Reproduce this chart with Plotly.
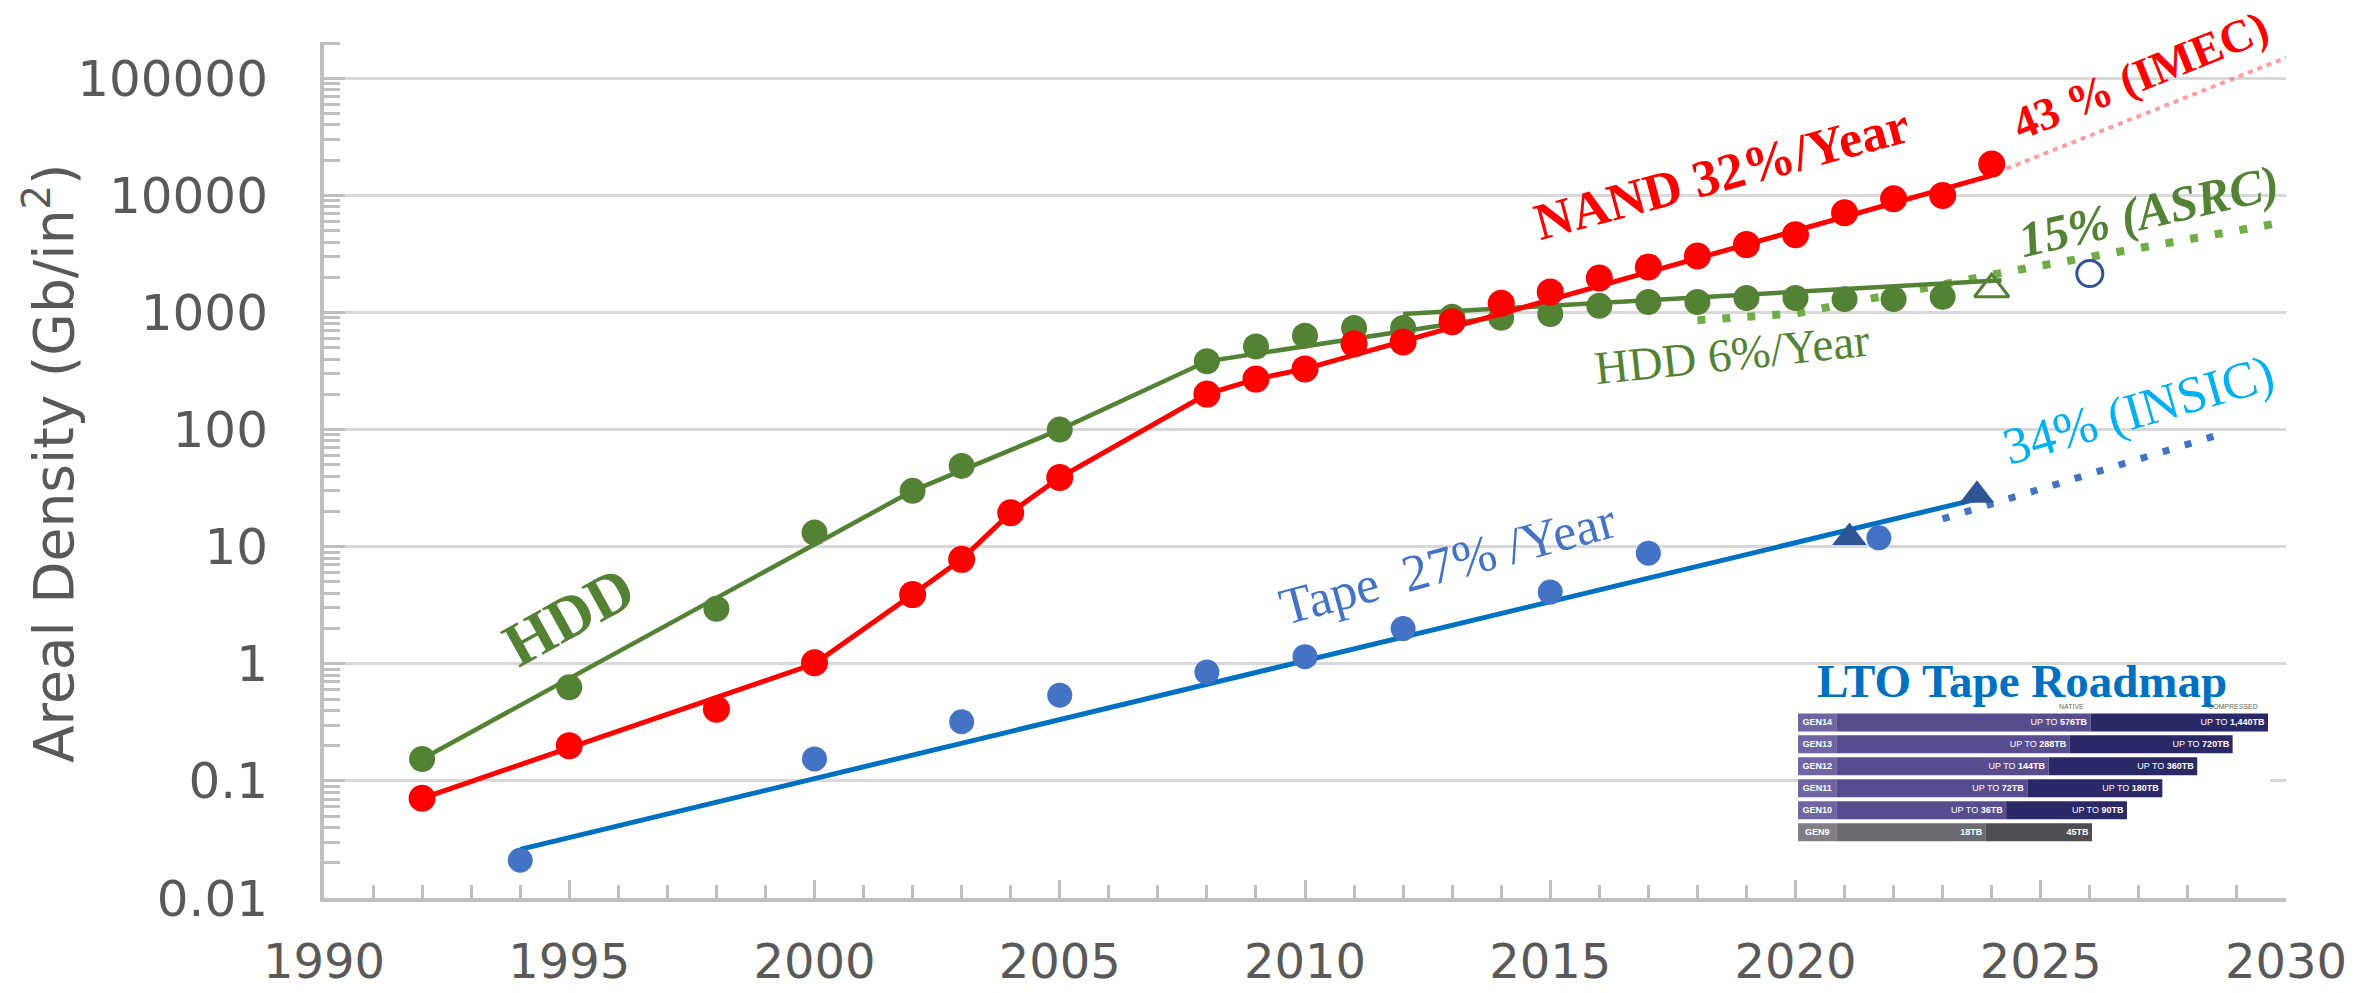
import plotly.graph_objects as go

# ---------------- data ----------------
hdd_years = [1992, 1995, 1998, 2000, 2002, 2003, 2005, 2008, 2009, 2010, 2011, 2012,
             2013, 2014, 2015, 2016, 2017, 2018, 2019, 2020, 2021, 2022, 2023]
hdd_density = [0.154, 0.63, 2.95, 13.2, 30, 49, 100, 383, 512, 634, 738, 738,
               920, 900, 970, 1140, 1230, 1230, 1330, 1330, 1300, 1300, 1360]

nand_years = [1992, 1995, 1998, 2000, 2002, 2003, 2004, 2005, 2008, 2009, 2010, 2011, 2012,
              2013, 2014, 2015, 2016, 2017, 2018, 2019, 2020, 2021, 2022, 2023, 2024]
nand_density = [0.071, 0.20, 0.41, 1.02, 3.9, 7.8, 19.5, 39, 201, 270, 330, 540, 560,
                835, 1200, 1500, 1970, 2450, 3040, 3800, 4620, 7120, 9370, 10000, 18500]

tape_years = [1994, 2000, 2003, 2005, 2008, 2010, 2012, 2015, 2017, 2021.7]
tape_density = [0.021, 0.154, 0.32, 0.54, 0.85, 1.15, 2.0, 4.1, 8.8, 11.9]

tape_tri_years = [2021.1, 2023.7]
tape_tri_density = [12.0, 27.5]
hdd_tri_years = [2024.0]
hdd_tri_density = [1580]
open_circle_years = [2026.0]
open_circle_density = [2150]

# trend / fit lines
hdd_fit1_years = [1992, 2002, 2005, 2008, 2014]
hdd_fit1 = [0.154, 30, 100, 383, 930]
hdd_fit2_years = [2012, 2024.2]
hdd_fit2 = [970, 1890]
nand_fit_years = [1992, 2000, 2002, 2003, 2004, 2005, 2008, 2009, 2010, 2024]
nand_fit = [0.071, 1.0, 3.9, 7.8, 19.5, 39, 201, 270, 330, 14800]
tape_fit_years = [1994, 2023.7]
tape_fit = [0.026, 25.5]

# projections
imec_years = [2024.3, 2030]
imec = [16900, 150000]
asrc_years = [2018, 2020, 2024.3, 2029.8]
asrc = [860, 980, 2220, 5750]
insic_years = [2023.0, 2028.8]
insic = [17.3, 95]

# axis ticks
x_ticks = [1990, 1995, 2000, 2005, 2010, 2015, 2020, 2025, 2030]
y_ticks = [0.01, 0.1, 1, 10, 100, 1000, 10000, 100000]
y_ticktext = ["0.01", "0.1", "1", "10", "100", "1000", "10000", "100000"]

# LTO roadmap inset (bar lengths in % of the inset panel width)
lto_gens = ["GEN14", "GEN13", "GEN12", "GEN11", "GEN10", "GEN9"]
lto_rows = [5, 4, 3, 2, 1, 0]
lto_native_txt = ["UP TO <b>576TB</b>", "UP TO <b>288TB</b>", "UP TO <b>144TB</b>",
                  "UP TO <b>72TB</b>", "UP TO <b>36TB</b>", "<b>18TB</b>"]
lto_comp_txt = ["UP TO <b>1,440TB</b>", "UP TO <b>720TB</b>", "UP TO <b>360TB</b>",
                "UP TO <b>180TB</b>", "UP TO <b>90TB</b>", "<b>45TB</b>"]
lto_label_end = [8.1] * 6
lto_native_end = [62.0, 57.6, 53.1, 48.6, 44.1, 39.8]
lto_comp_end = [99.6, 92.1, 84.6, 77.2, 69.7, 62.3]

# ---------------- styles ----------------
RED = "#FF0000"
GREEN = "#548235"
LGREEN = "#70AD47"
BLUE_PT = "#4472C4"
BLUE_LN = "#0070C0"
DBLUE = "#2F5597"
GRAY_TXT = "#595959"
AX = "#BFBFBF"
SERIF = "Liberation Serif, Times New Roman, serif"
SANS = "DejaVu Sans, Verdana, sans-serif"

fig = go.Figure()

# trend lines
fig.add_trace(go.Scatter(x=asrc_years, y=asrc, mode="lines",
                         line=dict(color=LGREEN, width=8, dash="8px,17px")))
fig.add_trace(go.Scatter(x=hdd_fit1_years, y=hdd_fit1, mode="lines",
                         line=dict(color=GREEN, width=4.5)))
fig.add_trace(go.Scatter(x=hdd_fit2_years, y=hdd_fit2, mode="lines",
                         line=dict(color=GREEN, width=4.5)))
fig.add_trace(go.Scatter(x=hdd_years, y=hdd_density, mode="markers",
                         marker=dict(color=GREEN, size=26)))
fig.add_trace(go.Scatter(x=hdd_tri_years, y=hdd_tri_density, mode="markers",
                         marker=dict(symbol="triangle-up-open", color=GREEN, size=30,
                                     line=dict(width=3, color=GREEN))))
fig.add_trace(go.Scatter(x=imec_years, y=imec, mode="lines",
                         line=dict(color="rgba(255,90,90,0.6)", width=4, dash="5px,5px")))
fig.add_trace(go.Scatter(x=nand_fit_years, y=nand_fit, mode="lines",
                         line=dict(color=RED, width=5)))
fig.add_trace(go.Scatter(x=nand_years, y=nand_density, mode="markers",
                         marker=dict(color=RED, size=27)))
fig.add_trace(go.Scatter(x=insic_years, y=insic, mode="lines",
                         line=dict(color=BLUE_PT, width=7, dash="7px,16px")))
fig.add_trace(go.Scatter(x=tape_fit_years, y=tape_fit, mode="lines",
                         line=dict(color=BLUE_LN, width=5)))
fig.add_trace(go.Scatter(x=tape_years, y=tape_density, mode="markers",
                         marker=dict(color=BLUE_PT, size=25)))
fig.add_trace(go.Scatter(x=tape_tri_years, y=tape_tri_density, mode="markers",
                         marker=dict(symbol="triangle-up", color=DBLUE, size=30)))
fig.add_trace(go.Scatter(x=open_circle_years, y=open_circle_density, mode="markers",
                         marker=dict(symbol="circle-open", color=DBLUE, size=26,
                                     line=dict(width=3, color=DBLUE))))

# LTO inset bars
lab_col = ["#6F65A3"] * 5 + ["#808084"]
nat_col = ["#574C8E"] * 5 + ["#6B6B70"]
cmp_col = ["#2A2867"] * 5 + ["#4E4E53"]
bar_font = dict(family="Liberation Sans, Arial, sans-serif", size=9, color="white")
fig.add_trace(go.Bar(y=lto_rows, x=lto_label_end, base=[0] * 6, orientation="h", width=0.82,
                     marker=dict(color=lab_col, line=dict(width=0)),
                     text=["<b>" + g + "</b>" for g in lto_gens], textposition="inside",
                     insidetextanchor="middle", textangle=0, textfont=bar_font,
                     xaxis="x2", yaxis="y2"))
fig.add_trace(go.Bar(y=lto_rows, x=[n - l for n, l in zip(lto_native_end, lto_label_end)],
                     base=lto_label_end, orientation="h", width=0.82,
                     marker=dict(color=nat_col, line=dict(width=0)),
                     text=lto_native_txt, textposition="inside", insidetextanchor="end",
                     textangle=0, textfont=bar_font, xaxis="x2", yaxis="y2"))
fig.add_trace(go.Bar(y=lto_rows, x=[c - n for c, n in zip(lto_comp_end, lto_native_end)],
                     base=lto_native_end, orientation="h", width=0.82,
                     marker=dict(color=cmp_col, line=dict(width=0)),
                     text=lto_comp_txt, textposition="inside", insidetextanchor="end",
                     textangle=0, textfont=bar_font, xaxis="x2", yaxis="y2"))

minor_y = [m * 10 ** e for e in range(-2, 6) for m in range(2, 10)]

fig.update_layout(
    width=2376, height=993,
    margin=dict(l=324, r=90, t=42, b=95, autoexpand=False),
    paper_bgcolor="white", plot_bgcolor="white",
    showlegend=False, barmode="overlay",
    xaxis=dict(range=[1990, 2030], tickmode="array", tickvals=x_ticks,
               ticks="inside", ticklen=18, tickwidth=2.5, tickcolor=AX,
               showline=True, linecolor=AX, linewidth=4, showgrid=False, zeroline=False,
               tickfont=dict(family=SANS, size=48, color=GRAY_TXT),
               ticklabelstandoff=18, automargin=False,
               minor=dict(dtick=1, tick0=1990, ticks="inside", ticklen=13,
                          tickwidth=2.5, tickcolor=AX, showgrid=False)),
    yaxis=dict(type="log", range=[-2, 5.31], tickmode="array", tickvals=y_ticks,
               ticktext=y_ticktext, ticks="inside", ticklen=21, tickwidth=2.5, tickcolor=AX,
               showline=True, linecolor=AX, linewidth=4, showgrid=True,
               gridcolor="#D9D9D9", gridwidth=2.5, zeroline=False,
               tickfont=dict(family=SANS, size=50, color=GRAY_TXT),
               ticklabelstandoff=42, automargin=False,
               minor=dict(tickmode="array", tickvals=minor_y, ticks="inside", ticklen=16,
                          tickwidth=2.5, tickcolor=AX, showgrid=False)),
    xaxis2=dict(domain=[0.7513, 0.9918], range=[0, 100], anchor="y2", visible=False,
                fixedrange=True),
    yaxis2=dict(domain=[0.0643, 0.229], range=[-0.49, 5.93], anchor="x2", visible=False,
                fixedrange=True),
    shapes=[dict(type="rect", xref="x2 domain", yref="y2 domain", x0=0, x1=1, y0=0, y1=1,
                 fillcolor="#EFEFF5", line=dict(width=0), layer="below")],
)

ann = []


def add_ann(text, x, y, size, color, angle=0, family=SERIF, **kw):
    d = dict(text=text, x=x, y=y, xref="x", yref="y", showarrow=False, textangle=angle,
             font=dict(family=family, size=size, color=color), xanchor="center",
             yanchor="middle")
    d.update(kw)
    ann.append(d)


# labels on the main chart (y given in log10 units)
add_ann("<b>NAND 32%/Year</b>", 2018.5, 4.19, 52, RED, -15)
add_ann("<b>43 % (IMEC)</b>", 2027.03, 5.02, 46, RED, -22)
add_ann("<b><i>15% (ASRC)</i></b>", 2027.2, 3.87, 50, GREEN, -13)
add_ann("HDD 6%/Year", 2018.7, 2.646, 47, GREEN, -6)
add_ann("<b>HDD</b>", 1995.0, 0.405, 62, GREEN, -29)
add_ann("Tape\u00a0 27% /Year", 2012.9, 0.86, 52, BLUE_PT, -15)
add_ann("34% (INSIC)", 2027.0, 2.17, 52, "#00B0F0", -16)

# y-axis title
ann.append(dict(text="Areal Density (Gb/in<sup>2</sup>)", xref="paper", yref="paper",
                x=-0.1397, y=0.508, textangle=-90, showarrow=False, xanchor="center",
                yanchor="middle", font=dict(family=SANS, size=55, color=GRAY_TXT)))
# inset title and headers
ann.append(dict(text="<b>LTO Tape Roadmap</b>", xref="paper", yref="paper", x=0.8654,
                y=0.2535, showarrow=False, xanchor="center", yanchor="middle",
                font=dict(family=SERIF, size=47, color=BLUE_LN)))
ann.append(dict(text="NATIVE", xref="x2", yref="y2", x=58.0, y=5.72, showarrow=False,
                font=dict(family="Liberation Sans, Arial, sans-serif", size=7, color="#666666")))
ann.append(dict(text="COMPRESSED", xref="x2", yref="y2", x=92.1, y=5.72, showarrow=False,
                font=dict(family="Liberation Sans, Arial, sans-serif", size=7, color="#666666")))

fig.update_layout(annotations=ann)
fig.write_html("out.html", config={"displayModeBar": False},
               post_script="document.body.style.margin='0px';")
